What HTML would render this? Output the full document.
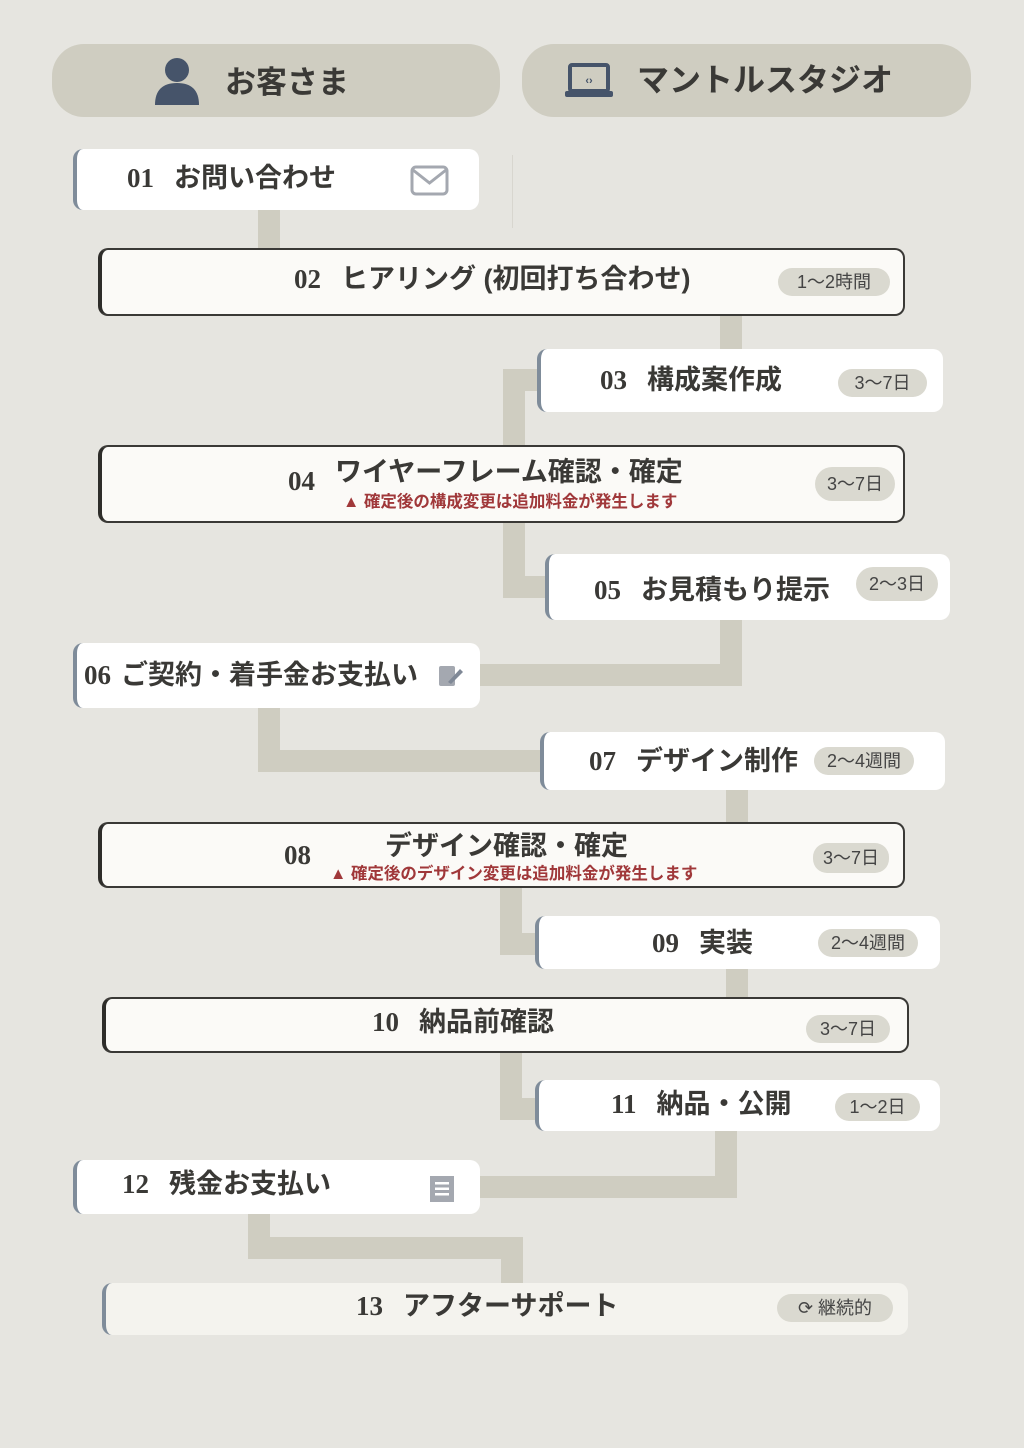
<!DOCTYPE html>
<html><head><meta charset="utf-8">
<style>
*{margin:0;padding:0;box-sizing:border-box}
body{width:1024px;height:1448px;background:#e6e5e0;position:relative;overflow:hidden;font-family:"Liberation Sans","Noto Sans CJK JP",sans-serif;color:#3a3936;font-weight:bold}
.a{position:absolute}
.c{position:absolute;background:#cfcdc1}
.hd{position:absolute;background:#cfcdc1;border-radius:32px;height:73px;top:44px}
.w{position:absolute;background:#fff;border-radius:10px;border-left:4px solid #7f8c9a}
.d{position:absolute;background:#fbfaf7;border-radius:10px;border:2px solid #3a3936;border-left:4px solid #2e2d2a}
.t{position:absolute;font-size:27px;white-space:nowrap;line-height:1}
.n{font-family:"Liberation Serif",serif;font-size:27px;margin-right:20px}
.b{position:absolute;background:#dad9d0;border-radius:14px;height:28px;font-size:18px;font-weight:normal;line-height:28px;text-align:center;color:#444;white-space:nowrap}
.warn{position:absolute;font-size:16.5px;color:#a0383a;white-space:nowrap;line-height:1}
</style></head><body>
<div class="hd" style="left:52px;width:448px"></div>
<div class="hd" style="left:522px;width:449px"></div>
<svg class="a" style="left:153px;top:55px" width="48" height="52"><circle cx="24" cy="15" r="12" fill="#46546a"/><path d="M2 50 Q2 28 24 28 Q46 28 46 50 Z" fill="#46546a"/></svg>
<div class="t" style="left:225px;top:67px;font-size:31px">お客さま</div>
<svg class="a" style="left:565px;top:63px" width="48" height="36"><rect x="5" y="2" width="38" height="26" rx="2" fill="none" stroke="#46546a" stroke-width="4"/><rect x="0" y="28" width="48" height="6" rx="2" fill="#46546a"/><text x="24" y="21" font-size="11" text-anchor="middle" fill="#46546a" font-family="Liberation Sans">‹›</text></svg>
<div class="t" style="left:637px;top:64px;font-size:32px">マントルスタジオ</div>
<div class="a" style="left:512px;top:155px;width:1px;height:73px;background:#d8d6cf"></div>

<div class="c" style="left:258px;top:210px;width:22px;height:40px"></div>
<div class="c" style="left:720px;top:315px;width:22px;height:36px"></div>
<div class="c" style="left:503px;top:369px;width:37px;height:22px"></div>
<div class="c" style="left:503px;top:369px;width:22px;height:78px"></div>
<div class="c" style="left:503px;top:521px;width:22px;height:77px"></div>
<div class="c" style="left:503px;top:576px;width:44px;height:22px"></div>
<div class="c" style="left:720px;top:618px;width:22px;height:68px"></div>
<div class="c" style="left:478px;top:664px;width:264px;height:22px"></div>
<div class="c" style="left:258px;top:706px;width:22px;height:66px"></div>
<div class="c" style="left:258px;top:750px;width:284px;height:22px"></div>
<div class="c" style="left:726px;top:788px;width:22px;height:36px"></div>
<div class="c" style="left:500px;top:886px;width:22px;height:69px"></div>
<div class="c" style="left:500px;top:933px;width:37px;height:22px"></div>
<div class="c" style="left:726px;top:967px;width:22px;height:32px"></div>
<div class="c" style="left:500px;top:1051px;width:22px;height:69px"></div>
<div class="c" style="left:500px;top:1098px;width:37px;height:22px"></div>
<div class="c" style="left:715px;top:1129px;width:22px;height:69px"></div>
<div class="c" style="left:478px;top:1176px;width:259px;height:22px"></div>
<div class="c" style="left:248px;top:1212px;width:22px;height:47px"></div>
<div class="c" style="left:248px;top:1237px;width:275px;height:22px"></div>
<div class="c" style="left:501px;top:1237px;width:22px;height:48px"></div>

<div class="w" style="left:73px;top:149px;width:406px;height:61px"></div>
<div class="t" style="left:127px;top:165px"><span class="n">01</span>お問い合わせ</div>
<svg class="a" style="left:410px;top:165px" width="40" height="32"><rect x="2" y="2" width="35" height="27" rx="4" fill="none" stroke="#a4a8b0" stroke-width="3"/><path d="M3 5 L19.5 18 L36 5" fill="none" stroke="#a4a8b0" stroke-width="3"/></svg>

<div class="d" style="left:98px;top:248px;width:807px;height:68px"></div>
<div class="t" style="left:294px;top:266px"><span class="n">02</span>ヒアリング (初回打ち合わせ)</div>
<div class="b" style="left:778px;top:268px;width:112px">1〜2時間</div>

<div class="w" style="left:537px;top:349px;width:406px;height:63px"></div>
<div class="t" style="left:600px;top:367px"><span class="n">03</span>構成案作成</div>
<div class="b" style="left:838px;top:369px;width:89px">3〜7日</div>

<div class="d" style="left:98px;top:445px;width:807px;height:78px"></div>
<div class="t" style="left:288px;top:459px"><span class="n" style="position:relative;top:9px">04</span>ワイヤーフレーム確認・確定</div>
<div class="warn" style="left:343px;top:494px">▲ 確定後の構成変更は追加料金が発生します</div>
<div class="b" style="left:815px;top:467px;width:80px;height:34px;line-height:34px;border-radius:17px">3〜7日</div>

<div class="w" style="left:545px;top:554px;width:405px;height:66px"></div>
<div class="t" style="left:594px;top:577px"><span class="n">05</span>お見積もり提示</div>
<div class="b" style="left:856px;top:567px;width:82px;height:34px;line-height:34px;border-radius:17px">2〜3日</div>

<div class="w" style="left:73px;top:643px;width:407px;height:65px"></div>
<div class="t" style="left:84px;top:662px"><span class="n" style="margin-right:10px">06</span>ご契約・着手金お支払い</div>
<svg class="a" style="left:438px;top:664px" width="26" height="24"><rect x="1" y="2" width="16" height="20" rx="2" fill="#a4a8b0"/><path d="M10 18 L22 5 L25 8 L13 20 Z" fill="#7f8896"/></svg>

<div class="w" style="left:540px;top:732px;width:405px;height:58px"></div>
<div class="t" style="left:589px;top:748px"><span class="n">07</span>デザイン制作</div>
<div class="b" style="left:814px;top:747px;width:100px">2〜4週間</div>

<div class="d" style="left:98px;top:822px;width:807px;height:66px"></div>
<div class="t" style="left:284px;top:842px"><span class="n">08</span></div>
<div class="t" style="left:385px;top:833px">デザイン確認・確定</div>
<div class="warn" style="left:330px;top:866px">▲ 確定後のデザイン変更は追加料金が発生します</div>
<div class="b" style="left:813px;top:843px;width:76px;height:30px;line-height:30px">3〜7日</div>

<div class="w" style="left:535px;top:916px;width:405px;height:53px"></div>
<div class="t" style="left:652px;top:930px"><span class="n">09</span>実装</div>
<div class="b" style="left:818px;top:929px;width:100px">2〜4週間</div>

<div class="d" style="left:102px;top:997px;width:807px;height:56px"></div>
<div class="t" style="left:372px;top:1009px"><span class="n">10</span>納品前確認</div>
<div class="b" style="left:806px;top:1015px;width:84px">3〜7日</div>

<div class="w" style="left:535px;top:1080px;width:405px;height:51px"></div>
<div class="t" style="left:611px;top:1091px"><span class="n">11</span>納品・公開</div>
<div class="b" style="left:835px;top:1093px;width:85px">1〜2日</div>

<div class="w" style="left:73px;top:1160px;width:407px;height:54px"></div>
<div class="t" style="left:122px;top:1171px"><span class="n">12</span>残金お支払い</div>
<svg class="a" style="left:429px;top:1175px" width="26" height="28"><rect x="1" y="1" width="24" height="26" fill="#a4a8b0"/><rect x="6" y="7" width="14" height="2.5" fill="#fff"/><rect x="6" y="12.5" width="14" height="2.5" fill="#fff"/><rect x="6" y="18" width="14" height="2.5" fill="#fff"/></svg>

<div class="w" style="left:102px;top:1283px;width:806px;height:52px;background:#f4f3ee"></div>
<div class="t" style="left:356px;top:1293px"><span class="n">13</span>アフターサポート</div>
<div class="b" style="left:777px;top:1294px;width:116px">⟳ 継続的</div>
</body></html>
